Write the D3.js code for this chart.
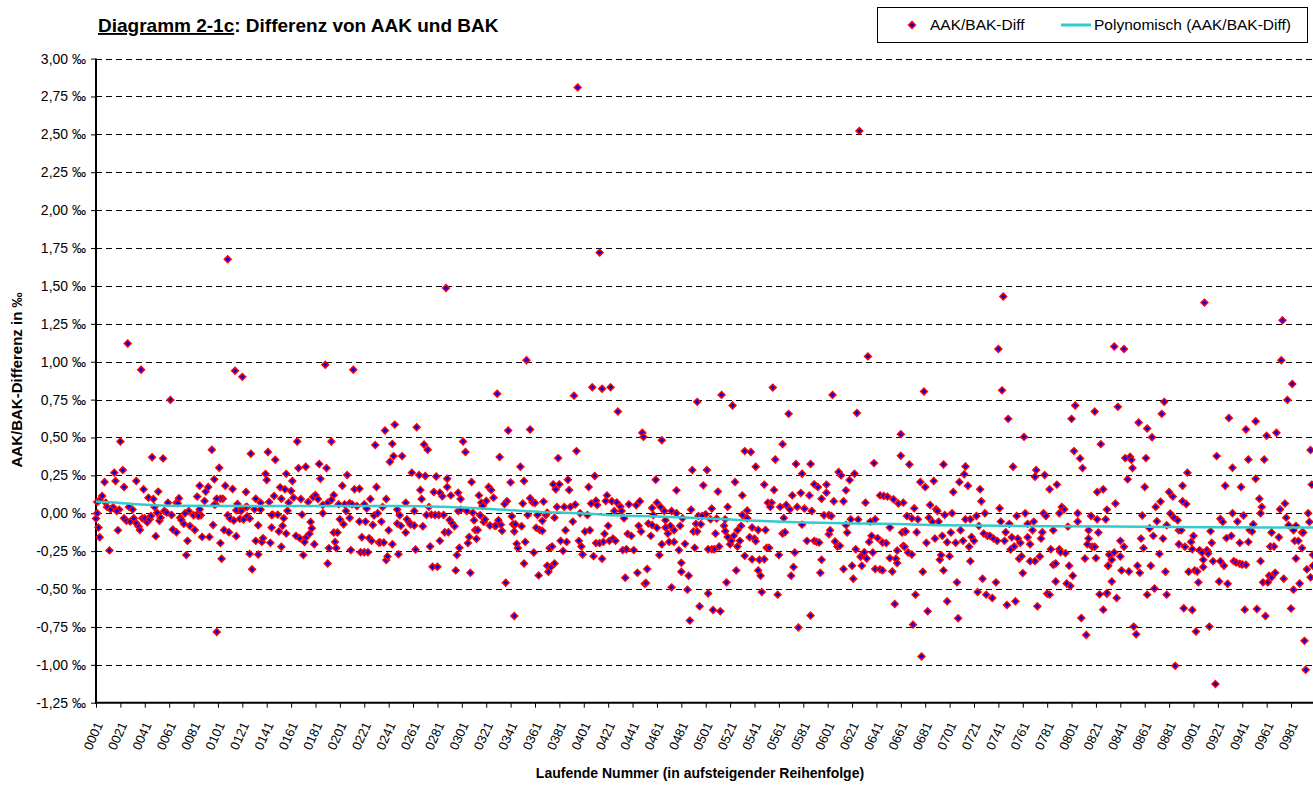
<!DOCTYPE html>
<html>
<head>
<meta charset="utf-8">
<script src="https://cdn.jsdelivr.net/npm/d3@7/dist/d3.min.js"></script>
<style>
  body { margin: 0; background: #fff; }
  text { font-family: Arial, "Liberation Sans", sans-serif; }
</style>
</head>
<body>
<div id="chart"></div>
<script>
// Tick labels
let yTicks = [3, 2.75, 2.5, 2.25, 2, 1.75, 1.5, 1.25, 1, 0.75, 0.5, 0.25, 0, -0.25, -0.5, -0.75, -1, -1.25];
let xTicks = ["0001", "0021", "0041", "0061", "0081", "0101", "0121", "0141", "0161", "0181",
  "0201", "0221", "0241", "0261", "0281", "0301", "0321", "0341", "0361", "0381",
  "0401", "0421", "0441", "0461", "0481", "0501", "0521", "0541", "0561", "0581",
  "0601", "0621", "0641", "0661", "0681", "0701", "0721", "0741", "0761", "0781",
  "0801", "0821", "0841", "0861", "0881", "0901", "0921", "0941", "0961", "0981"];

// AAK/BAK-Diff, [laufende Nummer, Differenz in ‰]
let outliers = [[27, 1.12], [38, 0.947], [109, 1.676], [115, 0.94], [121, 0.90], [189, 0.98], [212, 0.947],
  [288, 1.486], [354, 1.01], [396, 2.81], [414, 1.72], [627, 2.523], [634, 1.035], [741, 1.084], [745, 1.43],
  [836, 1.10], [844, 1.084], [910, 1.39], [973, 1.01], [974, 1.273]];

let pts0001 = [[62,0.748],[21,0.474],[96,0.419],[47,0.37],[56,0.362],[128,0.393],[142,0.404],[148,0.353],[102,0.30],[23,0.285],
  [16,0.268],[17,0.213],[8,0.206],[34,0.213],[24,0.173],[140,0.26],[141,0.22],[98,0.224],[86,0.182],[93,0.173],[91,0.143],
  [107,0.182],[113,0.16],[40,0.158],[52,0.143],[44,0.103],[48,0.094],[69,0.099],[84,0.11],[90,0.081],[105,0.096],[6,0.114],
  [4,0.086],[9,0.07],[2,0.075],[10,0.042],[15,0.04],[28,0.042],[31,0.024],[20,0.024],[18,0.015],[13,0.026],[49,0.042],
  [60,0.07],[67,0.07],[68,0.066],[77,0.015],[74,0.0],[81,-0.013],[84,-0.007],[87,-0.013],[99,0.059],[103,0.096],[117,0.061],
  [124,0.14],[116,0.02],[120,0.026],[125,0.042],[131,0.026],[132,0.096],[136,0.07],[143,0.075],[146,-0.009],[147,0.114],
  [150,-0.009],[152,0.171],[153,0.096],[156,0.158],[157,0.26],[158,0.017],[1,-0.035],[2,0.0],[3,-0.094],[4,-0.158],
  [12,-0.245],[19,-0.112],[24,-0.033],[26,-0.05],[29,-0.055],[32,-0.033],[34,-0.066],[36,-0.088],[37,-0.11],[39,-0.033],
  [41,-0.033],[43,-0.06],[45,-0.04],[46,-0.018],[50,-0.151],[51,0.004],[53,-0.05],[54,-0.029],[57,0.015],[59,0.004],
  [63,-0.011],[64,-0.107],[67,-0.125],[70,-0.029],[71,-0.044],[73,-0.07],[76,-0.182],[78,-0.083],[82,-0.11],[75,-0.276],
  [85,-0.018],[86,0.026],[88,-0.156],[94,-0.156],[97,-0.077],[98,0.057],[100,0.096],[103,-0.197],[100,-0.783],[104,-0.30],
  [106,-0.11],[110,-0.125],[109,-0.013],[111,-0.035],[114,-0.048],[116,-0.151],[119,-0.037],[120,0.015],[122,-0.042],
  [124,0.042],[125,-0.02],[127,-0.035],[127,-0.268],[129,-0.37],[132,-0.182],[134,-0.272],[134,-0.079],[136,0.024],
  [137,-0.189],[138,-0.164],[144,-0.195],[145,-0.094],[145,-0.011],[151,-0.12],[153,-0.221],[154,-0.083],[155,-0.033],
  [157,-0.134],[159,0.07]];

let pts0161 = [[246,0.585],[238,0.546],[264,0.568],[166,0.474],[194,0.474],[230,0.45],[244,0.458],[270,0.454],[273,0.419],
  [302,0.474],[304,0.404],[242,0.34],[245,0.377],[252,0.377],[167,0.298],[173,0.307],[184,0.325],[190,0.298],[185,0.228],
  [162,0.213],[207,0.252],[203,0.182],[213,0.158],[217,0.162],[231,0.173],[260,0.268],[266,0.252],[271,0.246],[280,0.243],
  [289,0.228],[289,0.173],[267,0.154],[278,0.14],[283,0.136],[285,0.112],[292,0.118],[298,0.136],[300,0.094],[309,0.206],
  [315,0.118],[323,0.173],[325,0.154],[327,0.103],[161,0.147],[163,0.103],[169,0.094],[175,0.075],[179,0.107],[181,0.12],
  [183,0.094],[187,0.055],[191,0.07],[194,0.088],[196,0.12],[200,0.059],[205,0.059],[209,0.066],[211,0.059],[215,0.048],
  [221,0.059],[223,0.031],[226,0.094],[239,0.094],[236,0.042],[248,0.024],[255,0.07],[262,0.015],[268,0.094],[274,0.042],
  [276,-0.009],[282,-0.011],[286,-0.011],[298,0.015],[300,0.024],[305,0.015],[310,0.004],[317,0.07],[318,0.048],[321,0.081],
  [170,-0.009],[177,-0.057],[178,-0.099],[176,-0.136],[173,-0.162],[172,-0.19],[168,-0.164],[165,-0.149],[180,-0.204],
  [171,-0.276],[187,0.0],[192,-0.23],[191,-0.331],[196,-0.127],[199,-0.127],[197,-0.189],[198,-0.23],[201,-0.04],[204,-0.072],
  [206,0.015],[209,-0.031],[210,-0.243],[217,-0.055],[219,-0.158],[218,-0.257],[222,-0.055],[221,-0.257],[224,-0.257],
  [225,-0.164],[227,-0.182],[228,-0.077],[229,-0.015],[232,0.0],[233,-0.193],[235,-0.055],[234,-0.193],[237,-0.193],
  [241,-0.112],[239,-0.309],[240,-0.285],[244,-0.204],[248,-0.068],[249,-0.27],[250,-0.013],[251,-0.083],[255,-0.127],
  [256,-0.04],[258,-0.061],[259,-0.075],[262,-0.081],[263,-0.239],[269,-0.086],[272,-0.011],[275,-0.219],[277,-0.353],
  [281,-0.353],[279,-0.011],[283,-0.182],[287,-0.125],[290,-0.125],[291,-0.044],[293,-0.066],[295,-0.086],[296,-0.377],
  [297,-0.276],[299,-0.228],[306,-0.197],[307,-0.156],[308,-0.393],[311,-0.046],[312,-0.11],[314,-0.11],[313,-0.169],
  [316,-0.013],[319,-0.057],[320,-0.04],[324,-0.081],[328,-0.083]];

let pts0329 = [[330,0.789],[408,0.831],[416,0.822],[423,0.831],[393,0.776],[429,0.671],[494,0.735],[339,0.546],[357,0.553],
  [449,0.531],[450,0.504],[465,0.482],[395,0.41],[332,0.371],[380,0.364],[349,0.307],[410,0.246],[352,0.213],[341,0.204],
  [388,0.221],[376,0.191],[381,0.191],[378,0.158],[389,0.154],[405,0.173],[460,0.221],[477,0.151],[490,0.285],[338,0.079],
  [336,0.061],[351,0.064],[357,0.099],[359,0.072],[361,0.068],[368,0.077],[379,0.042],[385,0.042],[390,0.042],[394,0.057],
  [398,0.0],[407,0.064],[411,0.083],[412,0.055],[420,0.118],[419,0.081],[424,0.079],[426,0.015],[428,0.072],[431,0.044],
  [432,0.015],[438,0.059],[444,0.053],[447,0.079],[457,0.035],[461,0.07],[464,0.042],[467,0.015],[473,0.015],[477,0.0],
  [489,0.024],[482,-0.033],[342,-0.02],[331,-0.046],[329,-0.083],[333,-0.075],[334,-0.116],[343,-0.072],[345,-0.072],
  [344,-0.12],[346,-0.202],[347,-0.23],[350,-0.086],[355,-0.011],[353,-0.189],[360,-0.259],[352,-0.331],[337,-0.458],
  [344,-0.678],[363,-0.011],[362,-0.096],[365,-0.11],[367,-0.116],[367,-0.05],[370,-0.011],[371,0.004],[373,-0.23],
  [375,-0.219],[364,-0.41],[371,-0.346],[374,-0.355],[377,-0.331],[372,-0.386],[377,-0.029],[382,-0.182],[384,-0.248],
  [386,-0.112],[387,-0.189],[392,-0.055],[397,-0.182],[399,-0.219],[400,-0.272],[402,-0.12],[404,-0.011],[406,-0.112],
  [409,-0.283],[411,-0.197],[414,-0.197],[416,-0.30],[418,-0.136],[417,-0.189],[421,-0.083],[422,-0.182],[425,-0.167],
  [427,-0.182],[433,-0.243],[434,-0.033],[436,-0.237],[437,-0.136],[440,-0.149],[442,-0.243],[446,-0.083],[448,-0.12],
  [445,-0.393],[435,-0.425],[451,-0.465],[453,-0.368],[452,-0.46],[454,-0.068],[456,-0.149],[457,-0.077],[458,-0.011],
  [461,-0.096],[463,-0.276],[465,-0.204],[468,-0.046],[468,-0.094],[470,-0.134],[471,-0.189],[472,-0.083],[473,-0.489],
  [475,-0.189],[475,-0.112],[479,-0.243],[480,-0.083],[481,-0.327],[481,-0.386],[484,-0.202],[486,-0.504],[487,-0.412],
  [488,-0.708],[491,-0.12],[493,-0.07],[494,-0.12],[492,-0.228],[496,-0.614],[495,-0.018]];

let pts0497 = [[514,0.781],[523,0.711],[556,0.829],[569,0.656],[605,0.781],[625,0.662],[661,0.522],[661,0.379],[564,0.456],
  [533,0.41],[538,0.404],[558,0.355],[502,0.285],[542,0.307],[575,0.325],[580,0.261],[587,0.325],[639,0.331],[499,0.184],
  [511,0.143],[525,0.206],[531,0.118],[549,0.189],[557,0.154],[572,0.118],[579,0.134],[586,0.118],[590,0.191],[593,0.173],
  [596,0.096],[600,0.189],[600,0.136],[610,0.272],[612,0.25],[619,0.219],[623,0.261],[616,0.151],[632,0.07],[644,0.118],
  [647,0.114],[650,0.11],[655,0.092],[659,0.064],[663,0.07],[506,0.031],[519,0.042],[535,0.018],[552,0.07],[555,0.07],
  [554,0.042],[562,0.042],[567,0.055],[570,0.026],[576,0.042],[582,0.031],[588,0.015],[606,0.079],[614,0.079],[501,-0.007],
  [498,-0.018],[505,-0.04],[510,-0.035],[517,-0.04],[531,-0.011],[535,-0.033],[497,-0.072],[516,-0.083],[517,-0.118],
  [509,-0.134],[506,-0.237],[503,-0.237],[508,-0.237],[512,-0.219],[519,-0.156],[521,-0.204],[522,-0.182],[524,-0.149],
  [527,-0.112],[529,-0.182],[527,-0.219],[530,-0.083],[533,-0.281],[537,-0.158],[539,-0.094],[539,-0.303],[541,-0.167],
  [542,-0.184],[544,-0.11],[545,-0.307],[544,-0.377],[546,-0.412],[547,-0.52],[549,-0.303],[550,-0.11],[551,-0.228],
  [553,-0.228],[561,-0.276],[560,-0.537],[564,-0.134],[566,-0.125],[565,-0.031],[574,-0.259],[573,-0.355],[571,-0.412],
  [577,-0.754],[580,-0.075],[584,-0.182],[587,-0.675],[590,-0.182],[592,-0.189],[594,-0.193],[595,-0.393],[596,-0.307],
  [598,-0.013],[602,-0.011],[604,-0.018],[602,-0.138],[603,-0.112],[607,-0.186],[609,-0.219],[611,-0.215],[614,-0.368],
  [616,-0.077],[617,-0.127],[620,-0.04],[621,-0.346],[622,-0.432],[624,-0.237],[626,-0.042],[629,-0.346],[628,-0.287],
  [630,-0.27],[631,-0.257],[633,-0.298],[635,-0.189],[636,-0.055],[637,-0.149],[638,-0.259],[640,-0.04],[640,-0.368],
  [642,-0.164],[644,-0.37],[646,-0.377],[646,-0.193],[649,-0.197],[652,-0.094],[652,-0.296],[654,-0.384],[656,-0.599],
  [657,-0.30],[658,-0.329],[658,-0.246],[662,-0.127],[663,-0.215],[503,-0.529],[507,-0.638],[513,-0.647],[518,-0.456],
  [526,-0.377]];

let pts0665 = [[680,0.803],[744,0.811],[749,0.623],[762,0.504],[801,0.623],[804,0.711],[820,0.671],[825,0.456],[668,0.322],
  [696,0.322],[714,0.309],[713,0.257],[753,0.307],[772,0.285],[771,0.241],[779,0.252],[803,0.41],[808,0.362],[810,0.298],
  [677,0.206],[681,0.173],[688,0.213],[709,0.206],[716,0.182],[704,0.14],[726,0.158],[727,0.079],[783,0.158],[789,0.189],
  [822,0.14],[827,0.158],[672,0.033],[685,0.055],[690,0.026],[691,0.015],[742,0.033],[793,0.042],[795,0.026],[830,0.024],
  [666,-0.018],[670,-0.033],[675,-0.04],[684,-0.029],[687,-0.057],[692,-0.055],[697,-0.011],[703,0.0],[714,-0.04],
  [718,-0.04],[723,-0.018],[730,0.0],[743,-0.055],[750,-0.07],[756,-0.018],[763,0.0],[765,-0.07],[770,-0.055],[778,0.0],
  [780,-0.018],[791,0.0],[798,-0.088],[806,0.0],[806,-0.055],[817,-0.018],[822,-0.04],[829,-0.04],[664,-0.12],[665,-0.12],
  [664,-0.221],[667,-0.259],[670,-0.272],[674,-0.125],[679,-0.386],[673,-0.537],[683,-0.647],[671,-0.735],[678,-0.945],
  [682,-0.195],[689,-0.167],[695,-0.149],[693,-0.307],[694,-0.276],[701,-0.283],[702,-0.127],[699,-0.191],[696,-0.377],
  [699,-0.581],[706,-0.195],[707,-0.456],[708,-0.693],[710,-0.112],[712,-0.182],[717,-0.221],[718,-0.316],[719,-0.156],
  [721,-0.182],[724,-0.52],[725,-0.083],[728,-0.432],[729,-0.134],[731,-0.537],[732,-0.149],[734,-0.149],[736,-0.559],
  [737,-0.167],[739,-0.456],[740,-0.182],[746,-0.182],[747,-0.125],[748,-0.605],[751,-0.239],[752,-0.158],[755,-0.581],
  [754,-0.219],[757,-0.167],[758,-0.30],[760,-0.283],[759,-0.195],[761,-0.395],[765,-0.158],[767,-0.204],[767,-0.316],
  [769,-0.112],[771,-0.316],[773,-0.614],[775,-0.285],[776,-0.167],[777,-0.125],[781,-0.531],[783,-0.537],[784,-0.237],
  [786,-0.112],[786,-0.34],[788,-0.331],[788,-0.45],[791,-0.237],[792,-0.257],[796,-0.263],[797,-0.463],[799,-0.346],
  [800,-0.48],[802,-0.412],[809,-0.691],[812,-0.298],[813,-0.803],[815,-0.112],[815,-0.167],[814,-0.204],[818,-0.221],
  [820,-0.221],[821,-0.296],[823,-0.127],[824,-0.535],[827,-0.636],[830,-0.531],[831,-0.346],[832,-0.272]];

let pts0833 = [[982,0.853],[978,0.748],[839,0.702],[877,0.735],[875,0.656],[856,0.599],[863,0.559],[867,0.502],[930,0.629],
  [952,0.607],[944,0.553],[961,0.511],[969,0.531],[997,0.417],[845,0.364],[849,0.373],[850,0.353],[851,0.298],[862,0.364],
  [920,0.377],[946,0.355],[959,0.355],[933,0.30],[896,0.268],[847,0.224],[861,0.173],[892,0.182],[927,0.182],[940,0.173],
  [952,0.228],[998,0.189],[881,0.14],[884,0.11],[874,0.077],[870,0.042],[892,0.079],[895,0.061],[955,0.096],[957,0.042],
  [976,0.064],[837,0.064],[859,-0.015],[871,-0.053],[879,-0.079],[882,-0.002],[885,-0.029],[888,-0.046],[889,-0.112],
  [891,-0.112],[865,-0.099],[923,-0.037],[925,-0.057],[933,0.0],[937,-0.055],[942,-0.015],[947,-0.11],[949,-0.12],
  [950,-0.072],[956,0.0],[972,0.026],[977,-0.029],[979,-0.079],[985,-0.083],[995,0.0],[996,-0.057],[990,-0.127],
  [991,-0.127],[983,-0.112],[965,-0.127],[841,-0.182],[844,-0.221],[841,-0.285],[836,-0.259],[834,-0.307],[832,-0.274],
  [831,-0.346],[834,-0.45],[830,-0.526],[838,-0.559],[842,-0.377],[848,-0.384],[852,-0.748],[854,-0.798],[855,-0.346],
  [857,-0.393],[858,-0.167],[860,-0.23],[863,-0.537],[866,-0.346],[868,-0.149],[869,-0.496],[873,-0.268],[876,-0.167],
  [878,-0.386],[879,-0.537],[886,-1.007],[889,-0.204],[893,-0.627],[894,-0.221],[897,-0.386],[899,-0.189],[900,-0.237],
  [900,-0.638],[901,-0.149],[902,-0.377],[903,-0.781],[904,-0.384],[905,-0.456],[906,-0.243],[908,-0.259],[909,-0.307],
  [909,-0.355],[912,-0.243],[913,-0.265],[914,-0.748],[915,-0.118],[916,-0.195],[917,-0.316],[919,-1.127],[922,-0.45],
  [923,-0.316],[926,-0.346],[928,-0.164],[929,-0.465],[932,-0.149],[934,-0.316],[936,-0.325],[939,-0.195],[939,-0.333],
  [941,-0.338],[943,-0.636],[944,-0.34],[946,-0.189],[953,-0.632],[956,-0.316],[958,-0.456],[960,-0.678],[962,-0.456],
  [963,-0.412],[964,-0.219],[965,-0.423],[967,-0.219],[968,-0.393],[971,-0.158],[975,-0.432],[981,-0.629],[983,-0.504],
  [984,-0.182],[985,-0.298],[987,-0.182],[988,-0.463],[990,-0.23],[992,-0.842],[993,-1.033],[994,-0.37],[997,-0.423],
  [999,-0.274],[999,-0.346]];

// Polynomische Trendlinie
let trendIdx = [1, 20, 34, 60, 160, 246, 290, 328, 365, 398, 420, 447, 488, 528, 558, 583, 624, 665, 696, 751, 833, 911, 999];
let trendVal = [0.077, 0.068, 0.059, 0.05, 0.048, 0.048, 0.042, 0.026, 0.009, 0.0, -0.011, -0.018, -0.029, -0.044, -0.055,
  -0.061, -0.068, -0.072, -0.079, -0.083, -0.088, -0.092, -0.094];

let graph = {
  width: 1313,
  height: 786,
  left: 96,
  right: 1313,
  top: 58.6,
  bottom: 702.7
};

let svg = d3.select("#chart").append("svg")
  .attr("width", graph.width)
  .attr("height", graph.height);

svg.append("rect").attr("width", graph.width).attr("height", graph.height).attr("fill", "#fff");

let xScale = d3.scaleLinear().domain([1, 999]).range([graph.left, graph.right]);
let yScale = d3.scaleLinear().domain([-1.25, 3]).range([graph.bottom, graph.top]);

let fmt = (v) => v.toFixed(2).replace(".", ",") + " \u2030";

// Gridlines
svg.append("g").selectAll("line").data(yTicks.filter(v => v > -1.25)).enter()
  .append("line")
  .attr("x1", graph.left).attr("x2", graph.right)
  .attr("y1", d => Math.round(yScale(d)) + 0.5).attr("y2", d => Math.round(yScale(d)) + 0.5)
  .attr("stroke", "#000").attr("stroke-width", 1)
  .attr("stroke-dasharray", "6,4");

// Y axis
let yAxis = d3.axisLeft(yScale).tickValues(yTicks).tickSize(5).tickFormat(fmt);
svg.append("g")
  .attr("transform", `translate(${graph.left},0)`)
  .call(yAxis)
  .call(g => g.select(".domain").remove())
  .call(g => g.selectAll("text").attr("font-size", 14).attr("fill", "#000").attr("x", -10));

// X axis
let xAxis = d3.axisBottom(xScale).tickValues(xTicks.map(Number)).tickSize(5).tickFormat("");
svg.append("g")
  .attr("transform", `translate(0,${graph.bottom})`)
  .call(xAxis)
  .call(g => g.select(".domain").remove());

svg.append("g").selectAll("text").data(xTicks).enter()
  .append("text")
  .attr("transform", d => `translate(${xScale(+d) + 3},${graph.bottom + 20}) rotate(-66)`)
  .attr("text-anchor", "end")
  .attr("dy", "0.35em")
  .attr("font-size", 13)
  .text(d => d);

svg.append("line")
  .attr("x1", graph.left).attr("x2", graph.left)
  .attr("y1", graph.top).attr("y2", graph.bottom + 1)
  .attr("stroke", "#000").attr("stroke-width", 2);
svg.append("line")
  .attr("x1", graph.left - 1).attr("x2", graph.right)
  .attr("y1", graph.bottom).attr("y2", graph.bottom)
  .attr("stroke", "#000").attr("stroke-width", 2);

// Points
let diamond = "M0,-3.4L3.4,0L0,3.4L-3.4,0Z";
let allPts = [].concat(pts0001, pts0161, pts0329, pts0497, pts0665, pts0833, outliers);
svg.append("g").selectAll("path").data(allPts).enter()
  .append("path")
  .attr("d", diamond)
  .attr("transform", d => `translate(${xScale(d[0])},${yScale(d[1])})`)
  .attr("fill", "#0000ff")
  .attr("stroke", "#ff0000")
  .attr("stroke-width", 1.5);

// Trend line
let trend = d3.line()
  .x((d, i) => xScale(trendIdx[i]))
  .y(d => yScale(d))
  .curve(d3.curveMonotoneX);
svg.append("path")
  .attr("d", trend(trendVal))
  .attr("fill", "none")
  .attr("stroke", "#33cccc")
  .attr("stroke-width", 2.5);

// Title
let title = svg.append("text")
  .attr("x", 98).attr("y", 32)
  .attr("font-size", 19).attr("font-weight", "bold");
title.append("tspan").attr("text-decoration", "underline").text("Diagramm 2-1c");
title.append("tspan").text(": Differenz von AAK und BAK");

// Axis titles
svg.append("text")
  .attr("x", 700).attr("y", 778)
  .attr("text-anchor", "middle")
  .attr("font-size", 14).attr("font-weight", "bold")
  .text("Laufende Nummer (in aufsteigender Reihenfolge)");

svg.append("text")
  .attr("transform", "translate(22,380) rotate(-90)")
  .attr("text-anchor", "middle")
  .attr("font-size", 15).attr("font-weight", "bold")
  .text("AAK/BAK-Differenz in \u2030");

// Legend
let legend = svg.append("g");
legend.append("rect")
  .attr("x", 877.5).attr("y", 7.5).attr("width", 430).attr("height", 35)
  .attr("fill", "#fff").attr("stroke", "#000");
legend.append("path")
  .attr("d", diamond)
  .attr("transform", "translate(912,25)")
  .attr("fill", "#0000ff").attr("stroke", "#ff0000").attr("stroke-width", 1.5);
legend.append("text").attr("x", 930).attr("y", 30).attr("font-size", 15.5).text("AAK/BAK-Diff");
legend.append("line")
  .attr("x1", 1061).attr("x2", 1091).attr("y1", 25).attr("y2", 25)
  .attr("stroke", "#33cccc").attr("stroke-width", 3);
legend.append("text").attr("x", 1094).attr("y", 30).attr("font-size", 15.5).text("Polynomisch (AAK/BAK-Diff)");
</script>
</body>
</html>
